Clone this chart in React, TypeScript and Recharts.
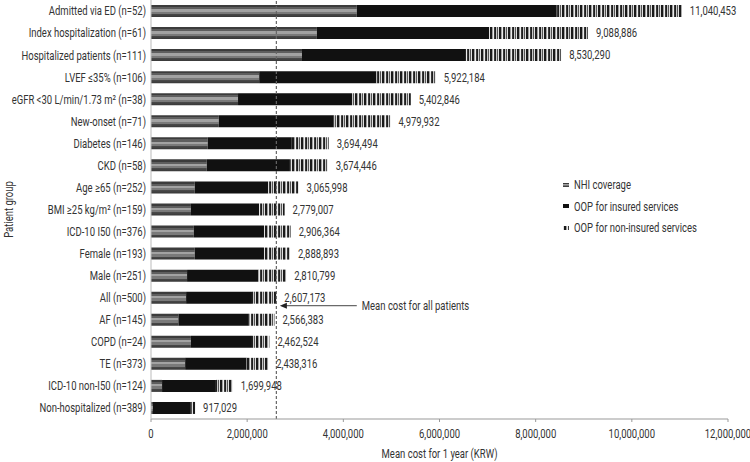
import React from 'react';
import { BarChart, Bar, XAxis, YAxis, ReferenceLine, LabelList } from 'recharts';

const categories = [
  'Admitted via ED (n=52)',
  'Index hospitalization (n=61)',
  'Hospitalized patients (n=111)',
  'LVEF \u226435% (n=106)',
  'eGFR <30 L/min/1.73 m\u00b2 (n=38)',
  'New-onset (n=71)',
  'Diabetes (n=146)',
  'CKD (n=58)',
  'Age \u226565 (n=252)',
  'BMI \u226525 kg/m\u00b2 (n=159)',
  'ICD-10 I50 (n=376)',
  'Female (n=193)',
  'Male (n=251)',
  'All (n=500)',
  'AF (n=145)',
  'COPD (n=24)',
  'TE (n=373)',
  'ICD-10 non-I50 (n=124)',
  'Non-hospitalized (n=389)',
];

const nhiCoverage = [4280000, 3450000, 3140000, 2250000, 1810000, 1410000, 1180000, 1160000, 910000, 830000, 890000, 910000, 750000, 730000, 570000, 830000, 710000, 230000, 40000];
const oopInsured = [4160000, 3580000, 3410000, 2440000, 2370000, 2380000, 1750000, 1730000, 1530000, 1420000, 1460000, 1440000, 1480000, 1370000, 1450000, 1270000, 1280000, 1120000, 790000];
const oopNonInsured = [2600453, 2058886, 1980290, 1232184, 1222846, 1189932, 764494, 784446, 625998, 529007, 556364, 538893, 580799, 507173, 546383, 362524, 448316, 349948, 87029];
const totalLabels = ['11,040,453', '9,088,886', '8,530,290', '5,922,184', '5,402,846', '4,979,932', '3,694,494', '3,674,446', '3,065,998', '2,779,007', '2,906,364', '2,888,893', '2,810,799', '2,607,173', '2,566,383', '2,462,524', '2,438,316', '1,699,948', '917,029'];
const xTicks = [0, 2000000, 4000000, 6000000, 8000000, 10000000, 12000000];
const meanAll = 2607173;
const seriesNames = ['NHI coverage', 'OOP for insured services', 'OOP for non-insured services'];

const data = categories.map((name, i) => ({
  name,
  nhi: nhiCoverage[i],
  ins: oopInsured[i],
  non: oopNonInsured[i],
  total: totalLabels[i],
}));

const FONT = 'Roboto, "Noto Sans", sans-serif';
const FS = 12.5;
const SX = 0.76;
const TXT = '#333';

const fmt = (v: number) => v.toLocaleString('en-US');

const CText = ({ x, y, anchor = 'start', dy = '0.35em', children }: any) => (
  <text
    transform={`translate(${x} ${y}) scale(${SX} 1)`}
    x={0}
    y={0}
    dy={dy}
    textAnchor={anchor}
    fontFamily={FONT}
    fontSize={FS}
    fill={TXT}
  >
    {children}
  </text>
);

const Defs = () => (
  <defs>
    <linearGradient id="nhiGrad" x1="0" y1="0" x2="0" y2="1">
      <stop offset="0" stopColor="#3c3c3c" />
      <stop offset="0.18" stopColor="#3c3c3c" />
      <stop offset="0.18" stopColor="#5e5e5e" />
      <stop offset="0.35" stopColor="#5e5e5e" />
      <stop offset="0.35" stopColor="#a2a2a2" />
      <stop offset="0.55" stopColor="#a2a2a2" />
      <stop offset="0.55" stopColor="#7a7a7a" />
      <stop offset="0.75" stopColor="#7a7a7a" />
      <stop offset="0.75" stopColor="#4a4a4a" />
      <stop offset="1" stopColor="#383838" />
    </linearGradient>
    <pattern id="nonPat" patternUnits="userSpaceOnUse" width="9" height="20">
      <rect x="0" y="0" width="9" height="20" fill="#8a8a8a" />
      <rect x="0" y="0" width="1" height="20" fill="#1e1e1e" />
      <rect x="1" y="0" width="1" height="20" fill="#c8c8c8" />
      <rect x="2" y="0" width="1" height="20" fill="#555" />
      <rect x="3" y="0" width="1" height="20" fill="#e0e0e0" />
      <rect x="4" y="0" width="2" height="20" fill="#1a1a1a" />
      <rect x="6" y="0" width="1" height="20" fill="#a0a0a0" />
      <rect x="7" y="0" width="1" height="20" fill="#ececec" />
      <rect x="8" y="0" width="1" height="20" fill="#3a3a3a" />
    </pattern>
  </defs>
);

const legendFills = ['url(#nhiGrad)', '#111', 'url(#nonPat)'];

const YTick = (p: any) => <CText x={p.x} y={p.y} anchor="end">{p.payload.value}</CText>;
const XTick = (p: any) => <CText x={p.x} y={p.y} anchor="middle" dy="0.71em">{fmt(p.payload.value)}</CText>;

const TotalLabel = (p: any) => (
  <CText x={p.x + p.width + 8} y={p.y + p.height / 2}>{p.value}</CText>
);

const MeanArrow = (props: any) => {
  const { x1, x2, y1 } = props;
  const y = y1 + 8;
  const xs = Math.min(x1, x2);
  const xe = Math.max(x1, x2);
  return (
    <g>
      <line x1={xs + 4} y1={y} x2={xe} y2={y} stroke="#444" strokeWidth={1} />
      <polygon points={`${xs},${y} ${xs + 7},${y - 3} ${xs + 7},${y + 3}`} fill="#222" />
      <CText x={xe + 5} y={y}>Mean cost for all patients</CText>
    </g>
  );
};

export default function App() {
  return (
    <div style={{ position: 'relative', width: 750, height: 462, background: '#fff' }}>
      <style>{`body{margin:0;}`}</style>
      <BarChart
        width={750}
        height={462}
        data={data}
        layout="vertical"
        margin={{ top: 0, right: 22, bottom: 0, left: 0 }}
        barSize={12}
      >
        <Defs />
        <XAxis
          type="number"
          domain={[0, 12000000]}
          ticks={xTicks}
          interval={0}
          height={43}
          tickSize={3}
          tickMargin={7}
          axisLine={{ stroke: '#999' }}
          tickLine={{ stroke: '#999' }}
          tick={<XTick />}
          label={{
            value: 'Mean cost for 1 year (KRW)',
            content: (p: any) => {
              const vb = p.viewBox;
              return <CText x={vb.x + vb.width / 2} y={vb.y + vb.height - 8} anchor="middle">Mean cost for 1 year (KRW)</CText>;
            },
          }}
        />
        <YAxis
          type="category"
          dataKey="name"
          width={151}
          interval={0}
          tickSize={3}
          tickMargin={2}
          tickLine={false}
          axisLine={{ stroke: '#bbb' }}
          tick={<YTick />}
          label={{
            value: 'Patient group',
            content: (p: any) => {
              const vb = p.viewBox;
              const cx = 9;
              const cy = vb.y + vb.height / 2;
              return (
                <g transform={`rotate(-90, ${cx}, ${cy})`}>
                  <CText x={cx} y={cy} anchor="middle">Patient group</CText>
                </g>
              );
            },
          }}
        />
        <Bar dataKey="nhi" stackId="a" name={seriesNames[0]} fill="url(#nhiGrad)" isAnimationActive={false} />
        <Bar dataKey="ins" stackId="a" name={seriesNames[1]} fill="#111" isAnimationActive={false} />
        <Bar dataKey="non" stackId="a" name={seriesNames[2]} fill="url(#nonPat)" isAnimationActive={false}>
          <LabelList dataKey="total" content={<TotalLabel />} />
        </Bar>
        <ReferenceLine x={meanAll} stroke="#666" strokeDasharray="3 2" strokeWidth={1.2} />
        <ReferenceLine
          segment={[{ x: 2680000, y: 'All (n=500)' }, { x: 4280000, y: 'All (n=500)' }]}
          shape={<MeanArrow />}
        />
      </BarChart>
      <div style={{ position: 'absolute', top: 174, left: 560, fontFamily: FONT, fontSize: FS, color: TXT }}>
        {seriesNames.map((n, i) => (
          <div key={n} style={{ display: 'flex', alignItems: 'center', height: 21.5 }}>
            <svg width={14} height={10}>
              <Defs />
              <rect x={3} y={3} width={6} height={4} fill={legendFills[i]} />
            </svg>
            <span style={{ display: 'inline-block', transform: `scaleX(${SX})`, transformOrigin: 'left center', whiteSpace: 'nowrap' }}>{n}</span>
          </div>
        ))}
      </div>
    </div>
  );
}
